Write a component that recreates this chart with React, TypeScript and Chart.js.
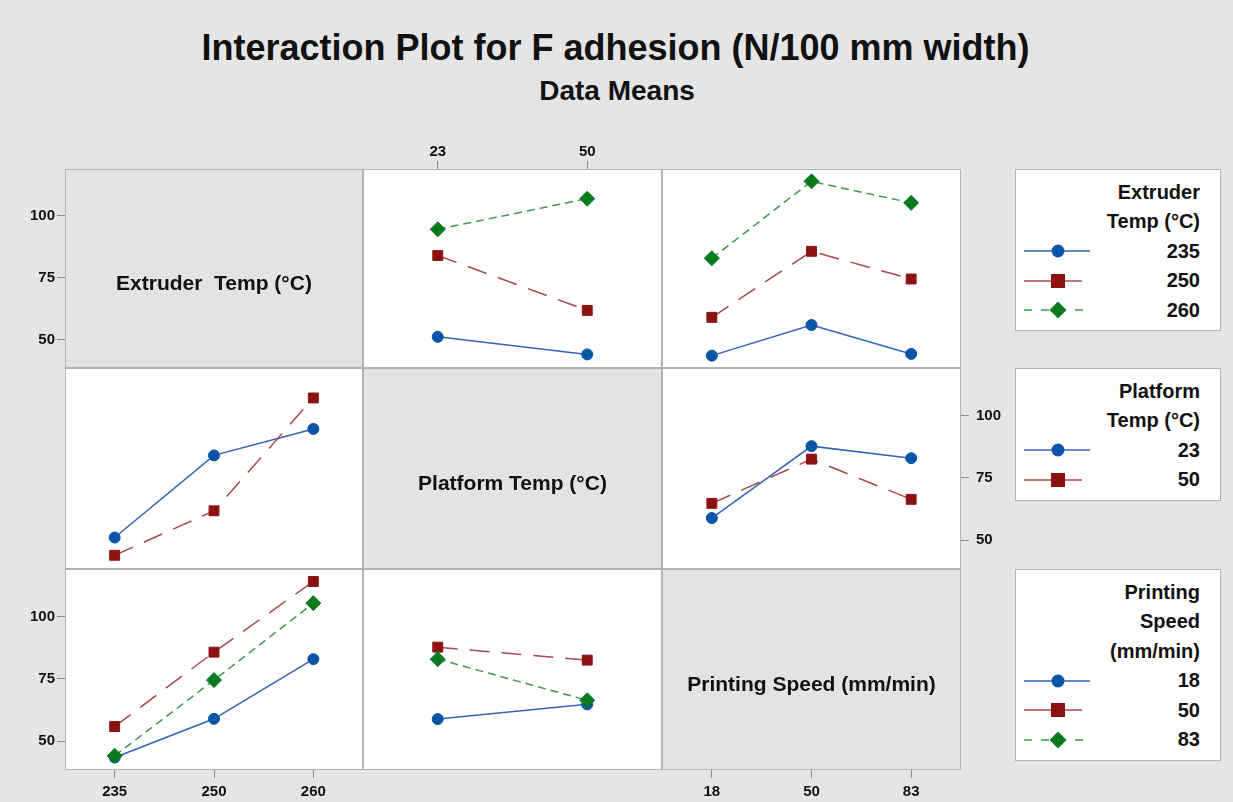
import React, { useEffect, useRef } from 'react';
import { Chart, registerables } from 'chart.js';

Chart.register(...registerables);

// ---------- data ----------
const extruderLevels = ['235', '250', '260'];
const platformLevels = ['23', '50'];
const speedLevels = ['18', '50', '83'];
const yTickValues = [50, 75, 100];
const yMin = 38.5;
const yMax = 119;

// mean F adhesion; each array = one level of the first factor across the levels of the second factor
const extruder235ByPlatform = [51.1, 44.0];
const extruder250ByPlatform = [84.0, 61.8];
const extruder260ByPlatform = [94.6, 107.0];

const extruder235BySpeed = [43.5, 55.9, 44.2];
const extruder250BySpeed = [59.0, 85.7, 74.5];
const extruder260BySpeed = [82.9, 114.0, 105.3];

const platform23BySpeed = [58.9, 87.7, 82.9];
const platform50BySpeed = [64.8, 82.5, 66.4];

// ---------- derived tables ----------
const extruderByPlatform = [extruder235ByPlatform, extruder250ByPlatform, extruder260ByPlatform];
const extruderBySpeed = [extruder235BySpeed, extruder250BySpeed, extruder260BySpeed];
const platformBySpeed = [platform23BySpeed, platform50BySpeed];
const transpose = (t: number[][]) => t[0].map((_, j) => t.map((row) => row[j]));
const platformByExtruder = transpose(extruderByPlatform);
const speedByExtruder = transpose(extruderBySpeed);
const speedByPlatform = transpose(platformBySpeed);

// ---------- styles ----------
const FONT = '"Liberation Sans", Arial, sans-serif';
const MARKER = ['#0a55a8', '#8c1212', '#0a7a20'];
const LINE = ['#2f64b8', '#a84848', '#3c9a4c'];
const DASH: number[][] = [[], [20, 12], [8, 5]];
const PSTYLE = ['circle', 'rect', 'rectRot'];
const PRAD = [5.5, 7, 7.5];
const BORDER = '#b2b2b2';
const PAGE_BG = '#e5e5e5';
const DIAG_BG = '#e3e3e3';
const TICK_COLOR = '#8a8a8a';
const TEXT = '#111111';

const XE = [65, 363, 662, 961];
const YE = [169, 368, 569, 770];
const ML = 65;
const MR = 60;
const MT = 45;
const MB = 32;

type Axes = { left?: boolean; right?: boolean; top?: boolean; bottom?: boolean };

type PanelProps = {
  r: number;
  c: number;
  axes: Axes;
  xLabels: string[];
  series?: number[][];
  diag?: string;
};

const cellPlugin = (fill: string) => ({
  id: 'cellFrame',
  beforeDraw(chart: any) {
    const { ctx, chartArea: a } = chart;
    ctx.save();
    ctx.fillStyle = fill;
    ctx.fillRect(a.left, a.top, a.right - a.left, a.bottom - a.top);
    ctx.restore();
  },
  afterDraw(chart: any) {
    const { ctx, chartArea: a } = chart;
    ctx.save();
    ctx.strokeStyle = BORDER;
    ctx.lineWidth = 1;
    ctx.strokeRect(a.left + 0.5, a.top + 0.5, a.right - a.left - 1, a.bottom - a.top - 1);
    ctx.restore();
  },
});

function Panel({ r, c, axes, xLabels, series, diag }: PanelProps) {
  const ref = useRef<HTMLCanvasElement>(null);
  const cellW = XE[c + 1] - XE[c];
  const cellH = YE[r + 1] - YE[r];
  const left = XE[c] - (axes.left ? ML : 0);
  const top = YE[r] - (axes.top ? MT : 0);
  const w = cellW + (axes.left ? ML : 0) + (axes.right ? MR : 0);
  const h = cellH + (axes.top ? MT : 0) + (axes.bottom ? MB : 0);
  const showX = !!(axes.top || axes.bottom);
  const showY = !!(axes.left || axes.right);

  useEffect(() => {
    const canvas = ref.current;
    if (!canvas) return;
    const tickFont = { family: FONT, size: 15, weight: 'bold' as const };
    const datasets = (series || []).map((vals, i) => ({
      data: vals.map((v, j) => ({ x: j, y: v })),
      borderColor: LINE[i],
      borderWidth: 1.5,
      borderDash: DASH[i],
      pointStyle: PSTYLE[i],
      pointRadius: PRAD[i],
      pointBackgroundColor: MARKER[i],
      pointBorderColor: MARKER[i],
      pointBorderWidth: 1,
      order: 2 - i,
      tension: 0,
    }));
    const chart = new Chart(canvas, {
      type: 'line',
      data: { datasets },
      options: {
        responsive: false,
        animation: false,
        events: [],
        layout: { padding: 0, autoPadding: false },
        plugins: { legend: { display: false }, tooltip: { enabled: false } },
        scales: {
          x: {
            type: 'linear',
            position: axes.top ? 'top' : 'bottom',
            display: showX,
            min: -0.5,
            max: xLabels.length - 0.5,
            afterBuildTicks: (s: any) => {
              s.ticks = xLabels.map((_, i) => ({ value: i }));
            },
            afterFit: (s: any) => {
              s.height = showX ? (axes.top ? MT : MB) : 0;
              s.paddingLeft = 0;
              s.paddingRight = 0;
              s.paddingTop = 0;
              s.paddingBottom = 0;
            },
            ticks: {
              callback: (v: any) => xLabels[Math.round(Number(v))],
              font: tickFont,
              color: TEXT,
              padding: axes.top ? 0 : 5,
              maxRotation: 0,
              autoSkip: false,
            },
            grid: { drawOnChartArea: false, drawTicks: true, tickLength: 8, color: TICK_COLOR },
            border: { display: false },
          },
          y: {
            type: 'linear',
            position: axes.right ? 'right' : 'left',
            display: showY,
            min: yMin,
            max: yMax,
            afterBuildTicks: (s: any) => {
              s.ticks = yTickValues.map((v) => ({ value: v }));
            },
            afterFit: (s: any) => {
              s.width = showY ? (axes.right ? MR : ML) : 0;
              s.paddingLeft = 0;
              s.paddingRight = 0;
              s.paddingTop = 0;
              s.paddingBottom = 0;
            },
            ticks: {
              font: tickFont,
              color: TEXT,
              padding: axes.right ? 7 : 2,
            },
            grid: { drawOnChartArea: false, drawTicks: true, tickLength: 8, color: TICK_COLOR },
            border: { display: false },
          },
        },
      } as any,
      plugins: [cellPlugin(diag ? DIAG_BG : '#ffffff')],
    });
    return () => chart.destroy();
  }, []);

  return (
    <>
      <canvas
        ref={ref}
        width={w}
        height={h}
        style={{ position: 'absolute', left, top, width: w, height: h }}
      />
      {diag && (
        <div
          style={{
            position: 'absolute',
            left: XE[c],
            width: cellW,
            top: YE[r] + cellH / 2 + 14 - 10.5,
            height: 21,
            lineHeight: '21px',
            fontSize: 21,
            fontWeight: 'bold',
            fontFamily: FONT,
            color: TEXT,
            textAlign: 'center',
            whiteSpace: 'pre',
          }}
        >
          {diag}
        </div>
      )}
    </>
  );
}

function LegendSymbol({ i }: { i: number }) {
  const cx = 34;
  const cy = 10;
  let marker: React.ReactNode;
  if (i === 0) marker = <circle cx={cx} cy={cy} r={6.5} fill={MARKER[0]} />;
  else if (i === 1) marker = <rect x={cx - 7} y={cy - 7} width={14} height={14} fill={MARKER[1]} />;
  else
    marker = (
      <polygon
        points={`${cx},${cy - 8.5} ${cx + 8.5},${cy} ${cx},${cy + 8.5} ${cx - 8.5},${cy}`}
        fill={MARKER[2]}
      />
    );
  return (
    <svg width={70} height={20} style={{ position: 'absolute', left: 8, top: '50%', marginTop: -10 }}>
      {i === 0 && <line x1={0} y1={cy} x2={66} y2={cy} stroke={LINE[0]} strokeWidth={1.5} />}
      {i === 1 && <line x1={0} y1={cy} x2={58} y2={cy} stroke={LINE[1]} strokeWidth={1.5} />}
      {i === 2 && (
        <line x1={0} y1={cy} x2={66} y2={cy} stroke={LINE[2]} strokeWidth={1.5} strokeDasharray="8 9" />
      )}
      {marker}
    </svg>
  );
}

function LegendBox({ top, height, title, items }: { top: number; height: number; title: string[]; items: string[] }) {
  const lineStyle: React.CSSProperties = {
    position: 'relative',
    height: 29.4,
    lineHeight: '29.4px',
    textAlign: 'right',
    paddingRight: 20,
  };
  return (
    <div
      style={{
        position: 'absolute',
        left: 1015,
        top,
        width: 206,
        height,
        boxSizing: 'border-box',
        border: `1px solid ${BORDER}`,
        background: '#ffffff',
        paddingTop: 8,
        fontFamily: FONT,
        fontWeight: 'bold',
        fontSize: 20,
        color: TEXT,
      }}
    >
      {title.map((t) => (
        <div key={t} style={lineStyle}>
          {t}
        </div>
      ))}
      {items.map((t, i) => (
        <div key={t + i} style={lineStyle}>
          <LegendSymbol i={i} />
          {t}
        </div>
      ))}
    </div>
  );
}

export default function App() {
  return (
    <div
      style={{
        position: 'absolute',
        left: 0,
        top: 0,
        width: 1233,
        height: 802,
        background: PAGE_BG,
        overflow: 'hidden',
      }}
    >
      <div
        style={{
          position: 'absolute',
          left: 0,
          width: 1231,
          top: 29.5,
          height: 36,
          lineHeight: '36px',
          fontSize: 36,
          fontWeight: 'bold',
          fontFamily: FONT,
          color: TEXT,
          textAlign: 'center',
        }}
      >
        Interaction Plot for F adhesion (N/100 mm width)
      </div>
      <div
        style={{
          position: 'absolute',
          left: 0,
          width: 1234,
          top: 76.5,
          height: 28,
          lineHeight: '28px',
          fontSize: 28,
          fontWeight: 'bold',
          fontFamily: FONT,
          color: TEXT,
          textAlign: 'center',
        }}
      >
        Data Means
      </div>

      <Panel r={0} c={0} axes={{ left: true }} xLabels={extruderLevels} diag={'Extruder  Temp (°C)'} />
      <Panel r={0} c={1} axes={{ top: true }} xLabels={platformLevels} series={extruderByPlatform} />
      <Panel r={0} c={2} axes={{}} xLabels={speedLevels} series={extruderBySpeed} />

      <Panel r={1} c={0} axes={{}} xLabels={extruderLevels} series={platformByExtruder} />
      <Panel r={1} c={1} axes={{}} xLabels={platformLevels} diag={'Platform Temp (°C)'} />
      <Panel r={1} c={2} axes={{ right: true }} xLabels={speedLevels} series={platformBySpeed} />

      <Panel r={2} c={0} axes={{ left: true, bottom: true }} xLabels={extruderLevels} series={speedByExtruder} />
      <Panel r={2} c={1} axes={{}} xLabels={platformLevels} series={speedByPlatform} />
      <Panel r={2} c={2} axes={{ bottom: true }} xLabels={speedLevels} diag={'Printing Speed (mm/min)'} />

      <LegendBox top={169} height={162} title={['Extruder', 'Temp (°C)']} items={extruderLevels} />
      <LegendBox top={368} height={133} title={['Platform', 'Temp (°C)']} items={platformLevels} />
      <LegendBox top={569} height={192} title={['Printing', 'Speed', '(mm/min)']} items={speedLevels} />
    </div>
  );
}
